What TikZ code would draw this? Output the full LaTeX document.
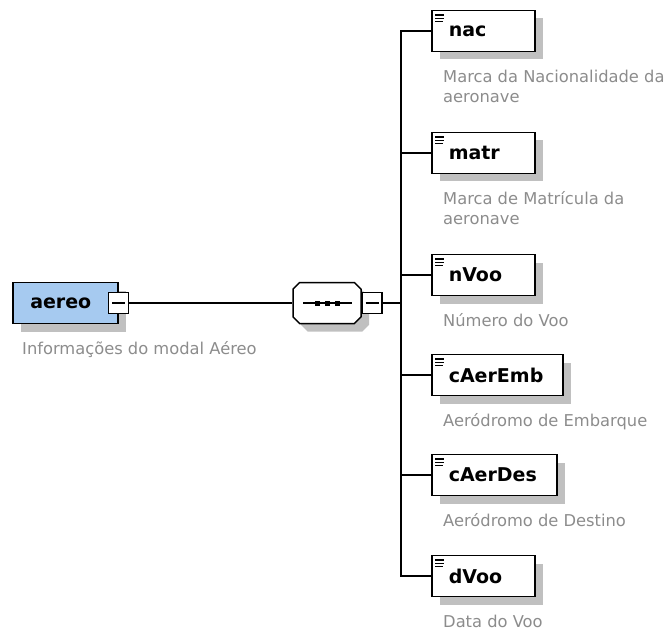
\documentclass[tikz,border=0pt]{standalone}
\usepackage{fontspec}
\setmainfont{DejaVu Sans}
\usetikzlibrary{shapes.misc,shadows}
\definecolor{elemblue}{RGB}{166,202,240}
\definecolor{shadowgray}{RGB}{192,192,192}
\definecolor{descgray}{RGB}{140,140,140}
\begin{document}
\begin{tikzpicture}[x=1pt,y=-1pt]
      \tikzstyle{shadowed} = [general shadow={fill=shadowgray,shadow xshift=8pt,shadow yshift=-8pt}];
      \tikzstyle{elem} = [draw,line width=1.5pt,shadowed,fill=white,minimum height=41pt,inner xsep=17pt,
        align=left,text width=69pt,font=\fontsize{19}{22}\selectfont\bfseries,anchor=west];
      \tikzstyle{child} = [elem,path picture={
        \draw[line width=1.3pt] ([xshift=3.5pt,yshift=-4.5pt]path picture bounding box.north west) -- ++(9pt,0pt)
          ([xshift=3.5pt,yshift=-7.8pt]path picture bounding box.north west) -- ++(9pt,0pt)
          ([xshift=3.5pt,yshift=-11pt]path picture bounding box.north west) -- ++(8pt,0pt);}];
      \tikzstyle{toggle} = [draw,line width=1.5pt,fill=white,minimum width=20pt,minimum height=21pt,inner sep=0pt,path picture={
        \draw[line width=1.5pt] ([xshift=-6.5pt]path picture bounding box.center) -- ([xshift=6.5pt]path picture bounding box.center);}];
      \tikzstyle{desc} = [anchor=north west,inner sep=0pt,align=left,text=descgray,font=\fontsize{16.3}{20}\selectfont];
      \tikzstyle{conn} = [line width=1.5pt];
      \useasboundingbox (0,0) rectangle (669,631);
      % root element and sequence
      \node[elem,fill=elemblue,inner xsep=17.5pt,text width=70pt] (aereo) at (12,303) {aereo};
      \node[toggle] (aereotoggle) at (aereo.east) {};
      \node[desc] (aereodesc) at ([xshift=10pt,yshift=-17.5pt]aereo.south west) {Informações do modal Aéreo};
      \node[draw,line width=1.5pt,shadowed,fill=white,chamfered rectangle,chamfered rectangle xsep=9pt,
        chamfered rectangle ysep=9pt,minimum width=68pt,minimum height=41pt,path picture={
        \draw[line width=1.5pt] ([xshift=-24pt]path picture bounding box.center) -- ([xshift=25pt]path picture bounding box.center);
        \fill[black] ([xshift=-12.5pt,yshift=-2.5pt]path picture bounding box.center) rectangle ++(5pt,5pt);
        \fill[black] ([xshift=-2.5pt,yshift=-2.5pt]path picture bounding box.center) rectangle ++(5pt,5pt);
        \fill[black] ([xshift=7.5pt,yshift=-2.5pt]path picture bounding box.center) rectangle ++(5pt,5pt);}] (seq) at (327,303) {};
      \node[toggle] (seqtoggle) at (372,303) {};
      \coordinate (trunk) at (401,303);
      % children
      \node[child] (nac) at (431,31) {nac};
      \node[desc] (nacdesc) at ([xshift=12pt,yshift=-17.5pt]nac.south west) {Marca da Nacionalidade da\\aeronave};
      \node[child] (matr) at (431,153) {matr};
      \node[desc] (matrdesc) at ([xshift=12pt,yshift=-17.5pt]matr.south west) {Marca de Matrícula da\\aeronave};
      \node[child] (nVoo) at (431,275) {nVoo};
      \node[desc] (nVoodesc) at ([xshift=12pt,yshift=-17.5pt]nVoo.south west) {Número do Voo};
      \node[child,text width=97pt] (cAerEmb) at (431,375) {cAerEmb};
      \node[desc] (cAerEmbdesc) at ([xshift=12pt,yshift=-17.5pt]cAerEmb.south west) {Aeródromo de Embarque};
      \node[child,text width=91pt] (cAerDes) at (431,475) {cAerDes};
      \node[desc] (cAerDesdesc) at ([xshift=12pt,yshift=-17.5pt]cAerDes.south west) {Aeródromo de Destino};
      \node[child] (dVoo) at (431,576) {dVoo};
      \node[desc] (dVoodesc) at ([xshift=12pt,yshift=-17.5pt]dVoo.south west) {Data do Voo};
      % connectors
      \draw[conn] (aereotoggle) -- (seq);
      \draw[conn] (seqtoggle) -- (trunk);
      \draw[conn] (nac.west) -| (trunk) |- (dVoo.west);
      \draw[conn] (trunk |- matr.west) -- (matr.west);
      \draw[conn] (trunk |- nVoo.west) -- (nVoo.west);
      \draw[conn] (trunk |- cAerEmb.west) -- (cAerEmb.west);
      \draw[conn] (trunk |- cAerDes.west) -- (cAerDes.west);
    \end{tikzpicture}
\end{document}
